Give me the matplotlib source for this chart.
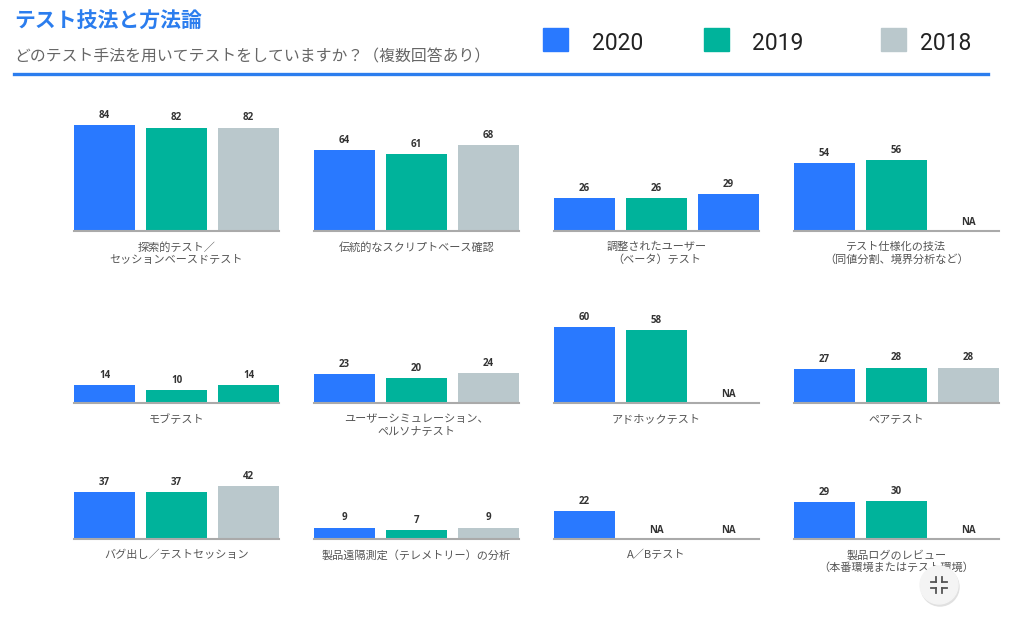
import matplotlib
matplotlib.use("Agg")
import matplotlib.pyplot as plt
from matplotlib.patches import Circle, Rectangle
from matplotlib.lines import Line2D

plt.rcParams['font.family'] = ['Noto Sans CJK JP', 'DejaVu Sans']

W, H = 1034, 618

BLUE = "#2979FF"
GREEN = "#00B39B"
GRAY = "#BAC8CC"
TITLE_BLUE = "#2B7DEE"

years = ["2020", "2019", "2018"]
categories = [
    "探索的テスト／\nセッションベースドテスト",
    "伝統的なスクリプトベース確認",
    "調整されたユーザー\n（ベータ）テスト",
    "テスト仕様化の技法\n（同値分割、境界分析など）",
    "モブテスト",
    "ユーザーシミュレーション、\nペルソナテスト",
    "アドホックテスト",
    "ペアテスト",
    "バグ出し／テストセッション",
    "製品遠隔測定（テレメトリー）の分析",
    "A／Bテスト",
    "製品ログのレビュー\n（本番環境またはテスト環境）",
]
v2020 = [84, 64, 26, 54, 14, 23, 60, 27, 37, 9, 22, 29]
v2019 = [82, 61, 26, 56, 10, 20, 58, 28, 37, 7, None, 30]
v2018 = [82, 68, 29, None, 14, 24, None, 28, 42, 9, None, None]

# the source colours a couple of third bars oddly; keep that
bar_colors = [[BLUE, GREEN, GRAY] for _ in categories]
bar_colors[2][2] = BLUE
bar_colors[4][2] = GREEN

# layout in pixels
col_x = [74, 314, 554, 794]
row_base = [231, 403, 539]
step, bw = 72, 61
px_per_unit = 1.262


def fx(x):
    return x / W


def fy(y):
    return 1 - y / H


fig = plt.figure(figsize=(W / 100, H / 100), dpi=100)

# header
fig.text(fx(14), fy(20), "テスト技法と方法論", fontsize=15, fontweight="bold",
         color=TITLE_BLUE, va="center", ha="left")
fig.text(fx(14), fy(57), "どのテスト手法を用いてテストをしていますか？（複数回答あり）",
         fontsize=11.4, color="#666666", va="center", ha="left")
fig.add_artist(Line2D([fx(14), fx(988)], [fy(74), fy(74)], color=TITLE_BLUE,
                      lw=2.4, transform=fig.transFigure))

# legend
for sx, tx, col, yr in zip([543, 704, 881], [592, 752, 920], [BLUE, GREEN, GRAY], years):
    fig.add_artist(Rectangle((fx(sx), fy(51)), 25 / W, 23 / H, color=col,
                             transform=fig.transFigure))
    fig.text(fx(tx), fy(43), yr, fontsize=16.5, color="#222222", va="center",
             ha="left", family=["Liberation Sans Narrow", "Roboto"])

# panels
for i, cat in enumerate(categories):
    r, c = divmod(i, 4)
    base = row_base[r]
    left = col_x[c]
    width = 2 * step + bw
    height = 100 * px_per_unit
    ax = fig.add_axes([fx(left), fy(base), width / W, height / H])
    ax.set_xlim(-bw / step / 2, 2 + bw / step / 2)
    ax.set_ylim(0, 100)
    ax.axis("off")
    vals = [v2020[i], v2019[i], v2018[i]]
    for j, v in enumerate(vals):
        if v is None:
            ax.annotate("NA", (j, 0), xytext=(0, 2), textcoords="offset points",
                        ha="center", va="bottom", fontsize=7, fontweight="bold",
                        color="#333333", family=["Open Sans", "DejaVu Sans"])
            continue
        ax.bar(j, v, width=bw / step, color=bar_colors[i][j])
        ax.annotate(str(v), (j, v), xytext=(0, 3), textcoords="offset points",
                    ha="center", va="bottom", fontsize=7, fontweight="bold",
                    color="#333333", family=["Open Sans", "DejaVu Sans"])
    ax.axhline(0, color="#AAAAAA", lw=1.5, clip_on=False)
    fig.text(fx(left + width / 2), fy(base + 11), cat, ha="center", va="top",
             fontsize=8, color="#555555", linespacing=1.25)

# full-screen button overlay in the corner (drawn in inches so it stays round)
cx_in, cy_in = 939 / 100, (H - 585) / 100
fig.add_artist(Circle((cx_in + 0.01, cy_in - 0.02), 0.19, color="#E0E0E0",
                      transform=fig.dpi_scale_trans, zorder=5))
fig.add_artist(Circle((cx_in, cy_in), 0.19, color="#F4F4F4",
                      transform=fig.dpi_scale_trans, zorder=6))
for dx, dy in [(-1, -1), (1, -1), (-1, 1), (1, 1)]:
    cx, cy = 939 + dx * 3, 585 + dy * 3
    ex = cx + dx * 5
    ey = cy + dy * 5
    fig.add_artist(Line2D([fx(cx), fx(ex)], [fy(cy), fy(cy)], color="#555555",
                          lw=1.3, transform=fig.transFigure, zorder=7))
    fig.add_artist(Line2D([fx(cx), fx(cx)], [fy(cy), fy(ey)], color="#555555",
                          lw=1.3, transform=fig.transFigure, zorder=7))

fig.savefig("out.png", dpi=100)
